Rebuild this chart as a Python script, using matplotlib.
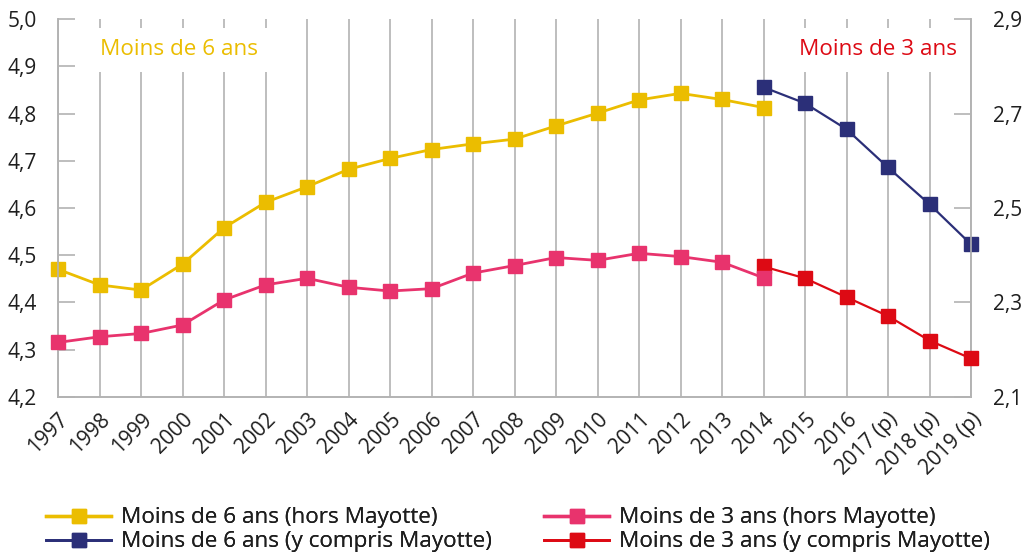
import matplotlib
matplotlib.use("Agg")
import matplotlib.pyplot as plt
from matplotlib.lines import Line2D

plt.rcParams['font.family'] = ['Open Sans', 'DejaVu Sans']

years = ["1997", "1998", "1999", "2000", "2001", "2002", "2003", "2004", "2005",
         "2006", "2007", "2008", "2009", "2010", "2011", "2012", "2013", "2014",
         "2015", "2016", "2017 (p)", "2018 (p)", "2019 (p)"]

six_hors = [4.470, 4.437, 4.426, 4.481, 4.558, 4.612, 4.645, 4.682, 4.705,
            4.724, 4.736, 4.746, 4.774, 4.801, 4.829, 4.843, 4.830, 4.813]
six_avec = [4.856, 4.822, 4.767, 4.686, 4.608, 4.523]
trois_hors = [2.215, 2.227, 2.234, 2.252, 2.305, 2.337, 2.351, 2.332, 2.324,
              2.329, 2.362, 2.378, 2.395, 2.389, 2.404, 2.397, 2.385, 2.352]
trois_avec = [2.376, 2.351, 2.311, 2.271, 2.219, 2.181]

label_six = "Moins de 6 ans"
label_trois = "Moins de 3 ans"
legend_labels = ["Moins de 6 ans (hors Mayotte)", "Moins de 6 ans (y compris Mayotte)",
                 "Moins de 3 ans (hors Mayotte)", "Moins de 3 ans (y compris Mayotte)"]

c_yellow = "#EBBD00"
c_navy = "#2B2F78"
c_pink = "#E8336D"
c_red = "#DD0A14"
c_grid = "#B3B3B3"
c_text = "#1E1E1E"

fig = plt.figure(figsize=(10.22, 5.58), dpi=100)
ax = fig.add_axes([58 / 1022, 1 - 396.7 / 558, (971 - 58) / 1022, (396.7 - 19.3) / 558])
ax2 = ax.twinx()

x_all = list(range(len(years)))
x_hors = x_all[:len(six_hors)]
x_avec = x_all[len(six_hors) - 1:]

ms = 9.5
ax.plot(x_hors, six_hors, color=c_yellow, lw=2, marker='s', ms=ms, zorder=3, clip_on=False)
ax.plot(x_avec, six_avec, color=c_navy, lw=1.6, marker='s', ms=ms, zorder=3, clip_on=False)
ax2.plot(x_avec, trois_avec, color=c_red, lw=1.6, marker='s', ms=ms, zorder=3, clip_on=False)
ax2.plot(x_hors, trois_hors, color=c_pink, lw=2, marker='s', ms=ms, zorder=4, clip_on=False)

ax.set_xlim(0, len(years) - 1)
ax.set_ylim(4.2, 5.0)
ax2.set_ylim(2.1, 2.9)
ax.set_yticks([4.2 + 0.1 * i for i in range(9)])
ax.set_yticklabels([f"{4.2 + 0.1 * i:.1f}".replace('.', ',') for i in range(9)])
ax2.set_yticks([2.1 + 0.2 * i for i in range(5)])
ax2.set_yticklabels([f"{2.1 + 0.2 * i:.1f}".replace('.', ',') for i in range(5)])

ax.set_xticks(x_all)
ax.set_xticklabels(years, rotation=45, ha='right', rotation_mode='anchor')
ax.tick_params(axis='x', length=0, pad=9, labelsize=15, labelcolor=c_text)
ax.tick_params(axis='y', direction='in', length=12, width=1.2, color=c_grid,
               pad=15, labelsize=15, labelcolor=c_text)
ax2.tick_params(axis='y', direction='in', length=12, width=1.2, color=c_grid,
                pad=16, labelsize=15, labelcolor=c_text)

ax.grid(axis='x', color=c_grid, lw=1.2)
ax.set_axisbelow(True)

for a in (ax, ax2):
    a.spines['top'].set_visible(False)
    for s in ('left', 'right', 'bottom'):
        a.spines[s].set_color(c_grid)
        a.spines[s].set_linewidth(1.2)

box = dict(facecolor='white', edgecolor='none', boxstyle='square,pad=0.5')
ax2.text(1.02, 2.835, label_six, color=c_yellow, fontsize=16.2, ha='left', va='center',
         bbox=box, zorder=5)
ax2.text(21.66, 2.835, label_trois, color=c_red, fontsize=16.2, ha='right', va='center',
         bbox=box, zorder=5)

def handle(c, lw):
    return Line2D([], [], color=c, lw=lw, marker='s', ms=9.5)

leg_kw = dict(frameon=False, fontsize=16.2, handlelength=2.9, handletextpad=0.43,
              borderpad=0, borderaxespad=0, loc='center left', labelcolor=c_text)
entries = [
    (handle(c_yellow, 2.4), legend_labels[0], 46, 518),
    (handle(c_navy, 2.0), legend_labels[1], 46, 542),
    (handle(c_pink, 2.4), legend_labels[2], 544, 518),
    (handle(c_red, 2.0), legend_labels[3], 544, 542),
]
for h, lab, px, py in entries:
    leg = fig.legend([h], [lab], bbox_to_anchor=(px / 1022, 1 - py / 558), **leg_kw)
    fig.add_artist(leg)

fig.savefig("out.png", dpi=100)
